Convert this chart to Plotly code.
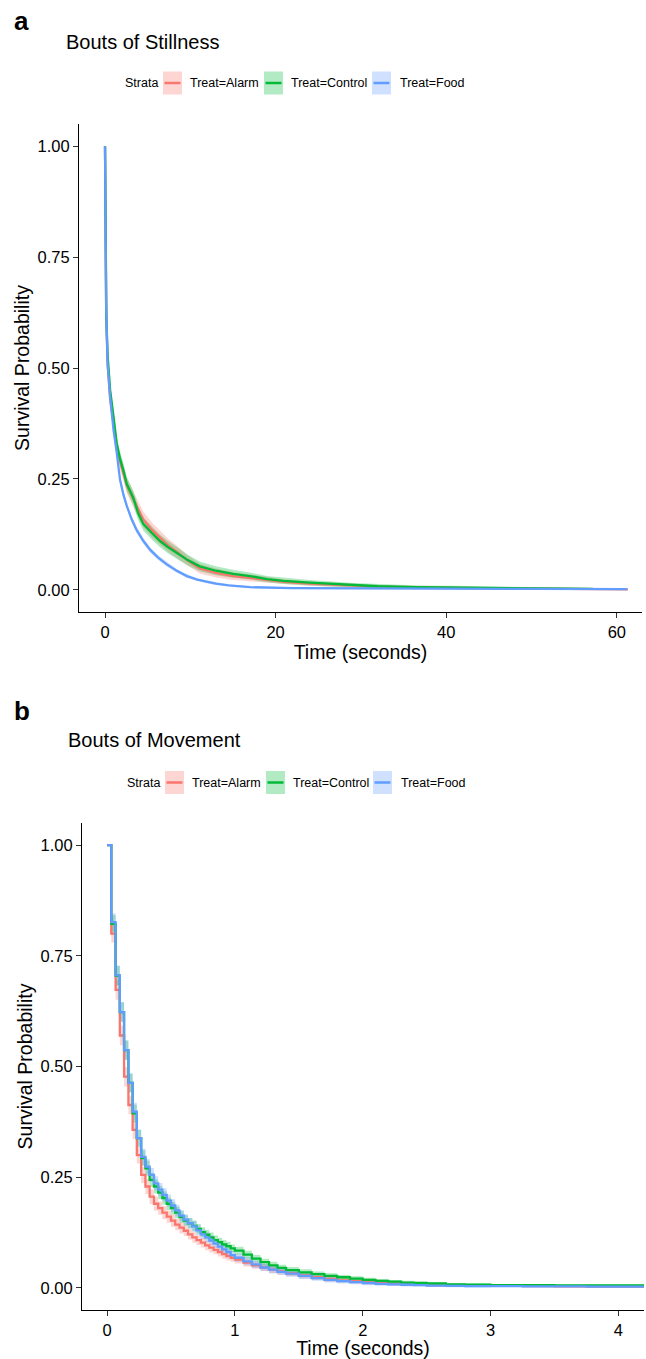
import plotly.graph_objects as go

W, H = 646, 1359
groups = ["Treat=Alarm", "Treat=Control", "Treat=Food"]
colors = ["#F8766D", "#00BA38", "#619CFF"]
fills = ["rgba(248,118,109,0.3)", "rgba(0,186,56,0.3)", "rgba(97,156,255,0.3)"]

# ---------- Panel a: Bouts of Stillness ----------
a_alarm_t = [0, 0.05, 0.15, 0.3, 0.6, 1.0, 1.37, 1.76, 2.15, 2.54, 3.3, 3.9, 4.5, 5.5, 6.45, 7.4, 8.4, 9.7, 11.1, 13, 15, 17, 19, 21, 24, 28.7, 32, 36.5, 41, 46, 50, 55, 61.3]
a_alarm_s = [1.0, 0.73, 0.61, 0.51, 0.43, 0.375, 0.325, 0.29, 0.265, 0.236, 0.205, 0.18, 0.158, 0.135, 0.118, 0.1, 0.086, 0.066, 0.048, 0.038, 0.031, 0.027, 0.022, 0.018, 0.014, 0.01, 0.007, 0.005, 0.004, 0.003, 0.0025, 0.002, 0.001]
a_alarm_w = [0, 0.01, 0.012, 0.014, 0.015, 0.016, 0.016, 0.017, 0.017, 0.017, 0.018, 0.018, 0.018, 0.017, 0.016, 0.015, 0.014, 0.012, 0.011, 0.01, 0.009, 0.008, 0.007, 0.006, 0.005, 0.005, 0.004, 0.004, 0.003, 0.003, 0.002, 0.002, 0.001]

a_control_t = [0, 0.05, 0.15, 0.3, 0.6, 1.0, 1.37, 1.76, 2.15, 2.54, 3.3, 3.9, 4.5, 5.5, 6.45, 7.4, 8.4, 9.7, 11.1, 13, 15, 17, 19, 20.9, 24, 28.7, 32, 36.5, 41, 46, 52, 57.2]
a_control_s = [1.0, 0.72, 0.62, 0.53, 0.45, 0.39, 0.33, 0.295, 0.27, 0.239, 0.208, 0.172, 0.148, 0.128, 0.11, 0.096, 0.084, 0.067, 0.053, 0.043, 0.036, 0.031, 0.024, 0.02, 0.016, 0.011, 0.008, 0.006, 0.005, 0.004, 0.003, 0.002]
a_control_w = [0, 0.01, 0.012, 0.014, 0.015, 0.016, 0.016, 0.016, 0.016, 0.016, 0.016, 0.016, 0.015, 0.015, 0.014, 0.014, 0.013, 0.012, 0.011, 0.01, 0.009, 0.008, 0.007, 0.007, 0.006, 0.005, 0.005, 0.004, 0.004, 0.003, 0.002, 0.002]

a_food_t = [0, 0.05, 0.12, 0.2, 0.3, 0.6, 1.0, 1.37, 1.76, 2.15, 2.54, 3.1, 3.7, 4.5, 5.3, 6.2, 7.2, 8.4, 9.6, 10.8, 11.9, 13, 14.5, 17, 22, 30, 40, 50, 61.2]
a_food_s = [1.0, 0.80, 0.65, 0.585, 0.51, 0.434, 0.36, 0.31, 0.248, 0.215, 0.19, 0.16, 0.135, 0.11, 0.09, 0.073, 0.058, 0.043, 0.031, 0.023, 0.018, 0.014, 0.01, 0.006, 0.004, 0.003, 0.0025, 0.002, 0.0015]
a_food_w = [0, 0.006, 0.007, 0.007, 0.008, 0.008, 0.008, 0.008, 0.008, 0.008, 0.007, 0.007, 0.007, 0.006, 0.006, 0.005, 0.005, 0.004, 0.004, 0.003, 0.003, 0.003, 0.002, 0.002, 0.002, 0.002, 0.001, 0.001, 0.001]

# ---------- Panel b: Bouts of Movement ----------
b_t = [0, 0.033, 0.067, 0.1, 0.133, 0.167, 0.2, 0.233, 0.267, 0.3, 0.333, 0.367, 0.4, 0.433, 0.467, 0.5,
       0.533, 0.567, 0.6, 0.633, 0.667, 0.7, 0.733, 0.767, 0.8, 0.833, 0.867, 0.9, 0.933, 0.967, 1.0,
       1.067, 1.133, 1.2, 1.267, 1.333, 1.4, 1.5, 1.6, 1.7, 1.8, 1.9, 2.0, 2.1, 2.2, 2.3, 2.4, 2.5,
       2.65, 2.8, 3.0, 3.25, 3.5, 3.75, 4.0, 4.2]
b_alarm_s = [1.0, 0.80, 0.673, 0.57, 0.477, 0.413, 0.357, 0.30, 0.255, 0.229, 0.206, 0.19, 0.18, 0.17, 0.161, 0.152,
             0.143, 0.136, 0.129, 0.121, 0.114, 0.108, 0.102, 0.096, 0.091, 0.086, 0.081, 0.076, 0.072, 0.068, 0.064,
             0.057, 0.051, 0.046, 0.041, 0.037, 0.033, 0.028, 0.024, 0.02, 0.017, 0.015, 0.013, 0.011, 0.0095, 0.008, 0.007, 0.006,
             0.0055, 0.005, 0.0045, 0.004, 0.0035, 0.003, 0.003, 0.003]
b_control_s = [1.0, 0.822, 0.705, 0.623, 0.537, 0.463, 0.394, 0.338, 0.293, 0.27, 0.244, 0.229, 0.215, 0.203, 0.19, 0.18,
               0.17, 0.16, 0.152, 0.146, 0.14, 0.133, 0.126, 0.12, 0.114, 0.108, 0.103, 0.098, 0.094, 0.089, 0.084,
               0.075, 0.066, 0.058, 0.051, 0.045, 0.040, 0.035, 0.031, 0.027, 0.024, 0.021, 0.018, 0.016, 0.014, 0.012, 0.011, 0.0098,
               0.008, 0.007, 0.006, 0.006, 0.0058, 0.0056, 0.0055, 0.0055]
b_food_s = [1.0, 0.826, 0.706, 0.623, 0.537, 0.463, 0.398, 0.338, 0.296, 0.274, 0.255, 0.236, 0.222, 0.21, 0.197, 0.186,
            0.175, 0.163, 0.154, 0.146, 0.139, 0.13, 0.121, 0.114, 0.107, 0.1, 0.093, 0.087, 0.081, 0.074, 0.068,
            0.06, 0.053, 0.046, 0.041, 0.036, 0.032, 0.027, 0.022, 0.018, 0.015, 0.013, 0.011, 0.009, 0.008, 0.007, 0.006, 0.005,
            0.0045, 0.004, 0.0038, 0.0035, 0.0033, 0.003, 0.003, 0.003]
b_w = [0, 0.02, 0.022, 0.022, 0.022, 0.021, 0.02, 0.019, 0.018, 0.017, 0.016, 0.016, 0.015, 0.015, 0.014, 0.014,
       0.013, 0.013, 0.012, 0.012, 0.012, 0.011, 0.011, 0.011, 0.011, 0.01, 0.01, 0.01, 0.01, 0.009, 0.009,
       0.009, 0.008, 0.008, 0.008, 0.007, 0.007, 0.007, 0.006, 0.006, 0.005, 0.005, 0.005, 0.004, 0.004, 0.004, 0.003, 0.003,
       0.003, 0.003, 0.002, 0.002, 0.002, 0.002, 0.002, 0.002]

x_ticks_a = [0, 20, 40, 60]
x_ticks_b = [0, 1, 2, 3, 4]
y_ticks = [0, 0.25, 0.5, 0.75, 1.0]
y_ticktext = ["0.00", "0.25", "0.50", "0.75", "1.00"]

FONT = "Arial, Liberation Sans, sans-serif"

fig = go.Figure()

def add_group(t, s, w, i, xa, ya, shape):
    up = [v + d for v, d in zip(s, w)]
    lo = [max(v - d, 0) for v, d in zip(s, w)]
    fig.add_trace(go.Scatter(x=t, y=up, mode="lines", line=dict(width=0, shape=shape, color=colors[i]),
                             xaxis=xa, yaxis=ya, showlegend=False, hoverinfo="skip"))
    fig.add_trace(go.Scatter(x=t, y=lo, mode="lines", line=dict(width=0, shape=shape, color=colors[i]),
                             fill="tonexty", fillcolor=fills[i], xaxis=xa, yaxis=ya,
                             showlegend=False, hoverinfo="skip"))

def add_line(t, s, i, xa, ya, shape):
    fig.add_trace(go.Scatter(x=t, y=s, mode="lines", name=groups[i],
                             line=dict(width=2.3, shape=shape, color=colors[i]),
                             xaxis=xa, yaxis=ya, showlegend=False))

a_sets = [(a_alarm_t, a_alarm_s, a_alarm_w), (a_control_t, a_control_s, a_control_w), (a_food_t, a_food_s, a_food_w)]
for i, (t, s, w) in enumerate(a_sets):
    add_group(t, s, w, i, "x", "y", "linear")
for i, (t, s, w) in enumerate(a_sets):
    add_line(t, s, i, "x", "y", "linear")

b_sets = [b_alarm_s, b_control_s, b_food_s]
for i, s in enumerate(b_sets):
    add_group(b_t, s, b_w, i, "x2", "y2", "hv")
for i, s in enumerate(b_sets):
    add_line(b_t, s, i, "x2", "y2", "hv")

def px_x(p):
    return p / W

def px_y(p):
    return 1 - p / H

axis_common = dict(showline=True, linecolor="black", linewidth=1.1, ticks="outside", ticklen=5,
                   tickcolor="#333333", tickwidth=1.1, showgrid=False, zeroline=False,
                   tickfont=dict(family=FONT, size=16.5, color="black"), mirror=False)

title_font = dict(family=FONT, size=19.5, color="black")

fig.update_layout(
    width=W, height=H, margin=dict(l=0, r=0, t=0, b=0),
    plot_bgcolor="white", paper_bgcolor="white", showlegend=False,
    xaxis=dict(domain=[px_x(79), px_x(642)], range=[-3.05, 62.95], tickvals=x_ticks_a,
               anchor="y", title=dict(text="Time (seconds)", font=title_font, standoff=5),
               **axis_common),
    yaxis=dict(domain=[px_y(612), px_y(124)], range=[-0.05, 1.05], tickvals=y_ticks, ticktext=y_ticktext,
               anchor="x", title=dict(text="Survival Probability", font=title_font, standoff=2),
               **axis_common),
    xaxis2=dict(domain=[px_x(82), px_x(644)], range=[-0.196, 4.2], tickvals=x_ticks_b,
                anchor="y2", title=dict(text="Time (seconds)", font=title_font, standoff=5),
                **axis_common),
    yaxis2=dict(domain=[px_y(1310), px_y(823)], range=[-0.05, 1.05], tickvals=y_ticks, ticktext=y_ticktext,
                anchor="x2", title=dict(text="Survival Probability", font=title_font, standoff=2),
                **axis_common),
)

annotations = []
shapes = []

def txt(x, y, text, size, bold=False, xanchor="left"):
    annotations.append(dict(x=px_x(x), y=px_y(y), xref="paper", yref="paper", text=("<b>%s</b>" % text) if bold else text,
                            showarrow=False, xanchor=xanchor, yanchor="middle",
                            font=dict(family=FONT, size=size, color="black")))

def legend(cy, strata_x, boxes, labels_x):
    txt(strata_x, cy, "Strata", 12.5)
    for i, (bx, lx) in enumerate(zip(boxes, labels_x)):
        shapes.append(dict(type="rect", xref="paper", yref="paper", x0=px_x(bx), x1=px_x(bx + 19),
                           y0=px_y(cy - 11.5), y1=px_y(cy + 11.5), fillcolor=fills[i], line=dict(width=0)))
        shapes.append(dict(type="line", xref="paper", yref="paper", x0=px_x(bx + 1.5), x1=px_x(bx + 17.5),
                           y0=px_y(cy), y1=px_y(cy), line=dict(color=colors[i], width=2.5)))
        txt(lx, cy, groups[i], 12.5)

# panel a header
txt(12, 21, "a", 26, bold=True)
txt(64, 42, "Bouts of Stillness", 20)
legend(83, 123, [163, 264, 372], [188, 289, 398])

# panel b header
txt(12, 711, "b", 26, bold=True)
txt(66, 740, "Bouts of Movement", 20)
legend(782.5, 125, [165, 266, 373], [190, 291, 399])

fig.update_layout(annotations=annotations, shapes=shapes)

fig.write_html("out.html")
